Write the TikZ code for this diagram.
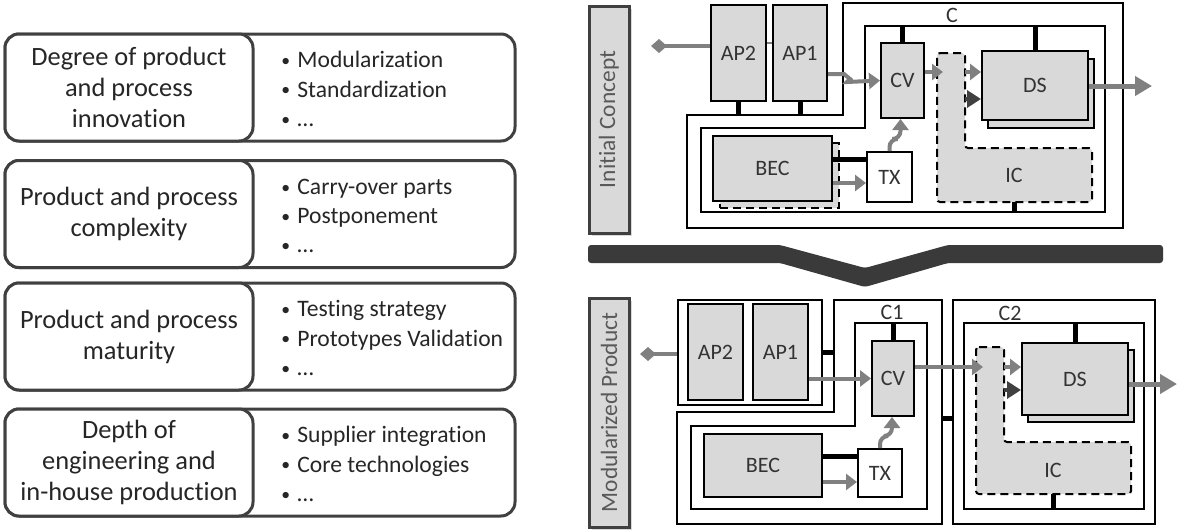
\documentclass[tikz,border=0pt]{standalone}
\usepackage{fontspec}
\setmainfont{Carlito}[Ligatures={NoCommon}]
\usepackage{graphicx}
\usepackage{tikz}
\usetikzlibrary{arrows.meta,shadows}
\definecolor{boxgray}{RGB}{217,217,217}
\definecolor{flowgray}{RGB}{128,128,128}
\definecolor{flowdark}{RGB}{64,64,64}
\definecolor{edgegray}{RGB}{64,64,64}
\definecolor{bargray}{RGB}{58,58,58}
\definecolor{titlegray}{RGB}{89,89,89}
\newcommand{\leveritem}[1]{\makebox[8pt][l]{\raisebox{0.6pt}{\scalebox{0.75}{•}}}#1}

\begin{document}
\begin{tikzpicture}[x=0.5pt, y=-0.5pt,
    factorbox/.style={draw=edgegray, line width=1.5pt, rounded corners=7pt,
      minimum height=53.5pt, inner sep=0pt},
    factorname/.style={factorbox, fill=white, minimum width=124pt, align=center,
      font=\fontsize{13.2}{15.5}\selectfont, text=black!85},
    levers/.style={anchor=west, align=left, inner sep=0pt,
      font=\fontsize{11.8}{14.6}\selectfont, text=black!85},
    sidelabel/.style={draw=edgegray, line width=1.5pt, fill=boxgray, rotate=90,
      minimum height=20pt, inner sep=0pt, text=titlegray,
      font=\fontsize{11.7}{14}\selectfont,
      drop shadow={opacity=0.3, shadow xshift=1.5pt, shadow yshift=-1.5pt}},
    module/.style={draw, line width=1pt, fill=boxgray, inner sep=0pt,
      text=black!80, font=\fontsize{11}{12}\selectfont},
    cframe/.style={draw, line width=1pt, inner sep=0pt},
    ctitle/.style={inner sep=0pt, text=black!80, font=\fontsize{11}{12}\selectfont},
    icshape/.style={draw, line width=1pt, fill=boxgray,
      dash pattern=on 4pt off 2.5pt, rounded corners=1.5pt},
    stub/.style={line width=2.5pt},
    link/.style={draw=flowgray, line width=1pt},
    flow/.style={draw=flowgray, line width=2pt, -{Triangle[length=5.5pt, width=8pt]}},
    outflow/.style={draw=flowgray, line width=2.5pt, -{Triangle[length=8.5pt, width=9.5pt]}},
    inflow/.style={draw=flowdark, line width=2pt, -{Triangle[length=7pt, width=8.5pt]}},
    feed/.style={draw=flowgray, line width=1.8pt, {Diamond[length=8pt, width=7pt]}-}]
  \useasboundingbox (0,0) rectangle (1179,530);

  % factors and levers
  \node[factorbox, minimum width=255pt] (row1) at (260,87.5) {};
  \node[factorname] (fac1) at (129,87.5) {Degree of product\\and process\\innovation};
  \node[levers] (lev1) at (281,89) {\leveritem{Modularization}\\\leveritem{Standardization}\\\leveritem{…}};
  \node[factorbox, minimum width=255pt] (row2) at (260,214) {};
  \node[factorname] (fac2) at (129,214) {Product and process\\complexity};
  \node[levers] (lev2) at (281,216) {\leveritem{Carry-over parts}\\\leveritem{Postponement}\\\leveritem{…}};
  \node[factorbox, minimum width=255pt] (row3) at (260,336.5) {};
  \node[factorname] (fac3) at (129,336.5) {Product and process\\maturity};
  \node[levers] (lev3) at (281,338) {\leveritem{Testing strategy}\\\leveritem{Prototypes Validation}\\\leveritem{…}};
  \node[factorbox, minimum width=255pt] (row4) at (260,462.5) {};
  \node[factorname] (fac4) at (129,462.5) {Depth of\\engineering and\\in-house production};
  \node[levers] (lev4) at (281,464) {\leveritem{Supplier integration}\\\leveritem{Core technologies}\\\leveritem{…}};

  % initial concept
  \node[sidelabel, minimum width=113.5pt] (initc) at (609,119.5) {Initial Concept};
  \draw[cframe] (687,115) coordinate (ca-sw) -- (843,115) -- (843,3) -- (1123,3)
    -- (1123,228) -- (687,228) -- cycle;
  \draw[cframe] (701,128) -- (865,128) -- (865,26) -- (1105,26) coordinate (cai-ne)
    -- (1105,212) coordinate (cai-se) -- (701,212) -- cycle;
  \node[ctitle] (ca) at (952,15) {C};
  \draw[icshape] (937,53) -- (965,53) coordinate (ica-ne) -- (965,148) -- (1092,148)
    -- (1092,202) -- (937,202) coordinate (ica-sw) -- cycle;
  \node[ctitle] (ica) at (1014,175) {IC};
  \node[module, minimum width=27.5pt, minimum height=48pt] (ap2a) at (738.5,53) {AP2};
  \node[module, minimum width=27pt, minimum height=48pt] (ap1a) at (800,53) {AP1};
  \node[module, minimum width=21.5pt, minimum height=37.5pt] (cva) at (902.5,80.5) {CV};
  \node[module, minimum width=53pt, minimum height=34.5pt] (dsa-back) at (1041,93.5) {};
  \node[module, minimum width=53pt, minimum height=34.5pt] (dsa) at (1035,85.5) {DS};
  \node[module, dash pattern=on 4pt off 2.5pt, minimum width=59.5pt, minimum height=32.5pt] (beca-back) at (779.5,175.5) {};
  \node[module, minimum width=59.5pt, minimum height=32.5pt] (beca) at (772.5,168.5) {BEC};
  \node[module, fill=white, minimum width=22.5pt, minimum height=25pt] (txa) at (889.5,177) {TX};
  \draw[stub] (ap2a.south) -- (ap2a.south |- ca-sw);
  \draw[stub] (ap1a.south) -- (ap1a.south |- ca-sw);
  \draw[stub] (cva.north) -- (cva.north |- cai-ne);
  \draw[stub] (dsa.north) -- (dsa.north |- cai-ne);
  \draw[stub] (ica |- ica-sw) -- (ica |- cai-se);
  \draw[stub] ([yshift=9pt]txa.west) -- ([yshift=9pt]txa.west -| beca.east);
  \coordinate (ina) at (651,46);
  \draw[feed] (ina) -- (ap2a.west |- ina);
  \draw[link] ([yshift=5pt]ap2a.east) -- ([yshift=5pt]ap1a.west);
  \draw[flow] ([yshift=-10.5pt]ap1a.east) -- ++(16,0) -- ++(6,5) -- ++(-3,3) -- (cva.west);
  \coordinate (icain) at (943,72);
  \draw[flow] (cva.east |- icain) -- (icain);
  \draw[flow] ([yshift=6.75pt]dsa.west -| ica-ne) -- ([yshift=6.75pt]dsa.west);
  \draw[inflow] ([yshift=-6.75pt]dsa.west -| ica-ne) -- ([yshift=-6.75pt]dsa.west);
  \coordinate (outa) at (1152,86);
  \draw[outflow] (dsa.east |- outa) -- (outa);
  \draw[flow] ([yshift=-3pt]txa.west -| beca.east) -- ([yshift=-3pt]txa.west);
  \draw[flow, rounded corners=4pt] (txa.north) -- ++(0,-12) -| ([xshift=-1pt]cva.south);

  \fill[bargray, rounded corners=1.5pt] (588,245) -- (780,245) -- (865,268) -- (948,245)
    -- (1163,245) -- (1163,263) -- (948,263) -- (865,287) -- (780,263) -- (588,263) -- cycle;

  % modularized product
  \node[sidelabel, minimum width=114.5pt] (modp) at (609,412.5) {Modularized Product};
  \node[cframe, minimum width=72pt, minimum height=52.5pt] (apb) at (750,352.5) {};
  \draw[cframe] (834,300) -- (942,300) coordinate (c1-ne) -- (942,524) -- (677,524)
    -- (677,412) -- (834,412) coordinate (c1-in) -- cycle;
  \draw[cframe] (855,323) -- (927,323) coordinate (c1i-ne) -- (927,509) -- (691,509)
    -- (691,426) -- (855,426) -- cycle;
  \node[ctitle] (c1) at (892,312) {C1};
  \node[cframe, minimum width=101pt, minimum height=112pt] (c2o) at (1054,412) {};
  \node[cframe, minimum width=90pt, minimum height=93pt] (c2i) at (1054,416) {};
  \node[ctitle] (c2) at (1010,313) {C2};
  \draw[icshape] (976,347) -- (1004,347) coordinate (icb-ne) -- (1004,442) -- (1131,442)
    -- (1131,494) -- (976,494) coordinate (icb-sw) -- cycle;
  \node[ctitle] (icb) at (1053,470) {IC};
  \node[module, minimum width=27.5pt, minimum height=48pt] (ap2b) at (715.5,352) {AP2};
  \node[module, minimum width=27.5pt, minimum height=48pt] (ap1b) at (780.5,352) {AP1};
  \node[module, minimum width=21pt, minimum height=37.5pt] (cvb) at (893,378.5) {CV};
  \node[module, minimum width=53pt, minimum height=36pt] (dsb-back) at (1081,386) {};
  \node[module, minimum width=53pt, minimum height=36pt] (dsb) at (1075,379) {DS};
  \node[module, minimum width=59pt, minimum height=31.5pt] (becb) at (763,465.5) {BEC};
  \node[module, fill=white, minimum width=22pt, minimum height=24pt] (txb) at (880,473) {TX};
  \draw[stub] (apb.east) -- (apb.east -| c1-in);
  \draw[stub] (cvb.north) -- (cvb.north |- c1i-ne);
  \draw[stub] ([yshift=-3pt]c2o.west) -- ([yshift=-3pt]c2o.west -| c1-ne);
  \draw[stub] (dsb.north) -- (dsb.north |- c2i.north);
  \draw[stub] (icb |- icb-sw) -- (icb |- c2i.south);
  \draw[stub] ([yshift=8.5pt]txb.west) -- ([yshift=8.5pt]txb.west -| becb.east);
  \coordinate (inb) at (640,354);
  \draw[feed] (inb) -- (apb.west |- inb);
  \draw[flow] (cvb.west -| ap1b.east) -- (cvb.west);
  \coordinate (icbin) at (983,367);
  \draw[flow] (cvb.east |- icbin) -- (icbin);
  \draw[flow] ([yshift=6pt]dsb.west -| icb-ne) -- ([yshift=6pt]dsb.west);
  \draw[inflow] ([yshift=-5.5pt]dsb.west -| icb-ne) -- ([yshift=-5.5pt]dsb.west);
  \coordinate (outb) at (1177,384);
  \draw[outflow] (dsb.east |- outb) -- (outb);
  \draw[flow] ([yshift=-4.5pt]txb.west -| becb.east) -- ([yshift=-4.5pt]txb.west);
  \draw[flow, rounded corners=4pt] (txb.north) -- ++(0,-12) -| ([xshift=-0.5pt]cvb.south);
\end{tikzpicture}
\end{document}
